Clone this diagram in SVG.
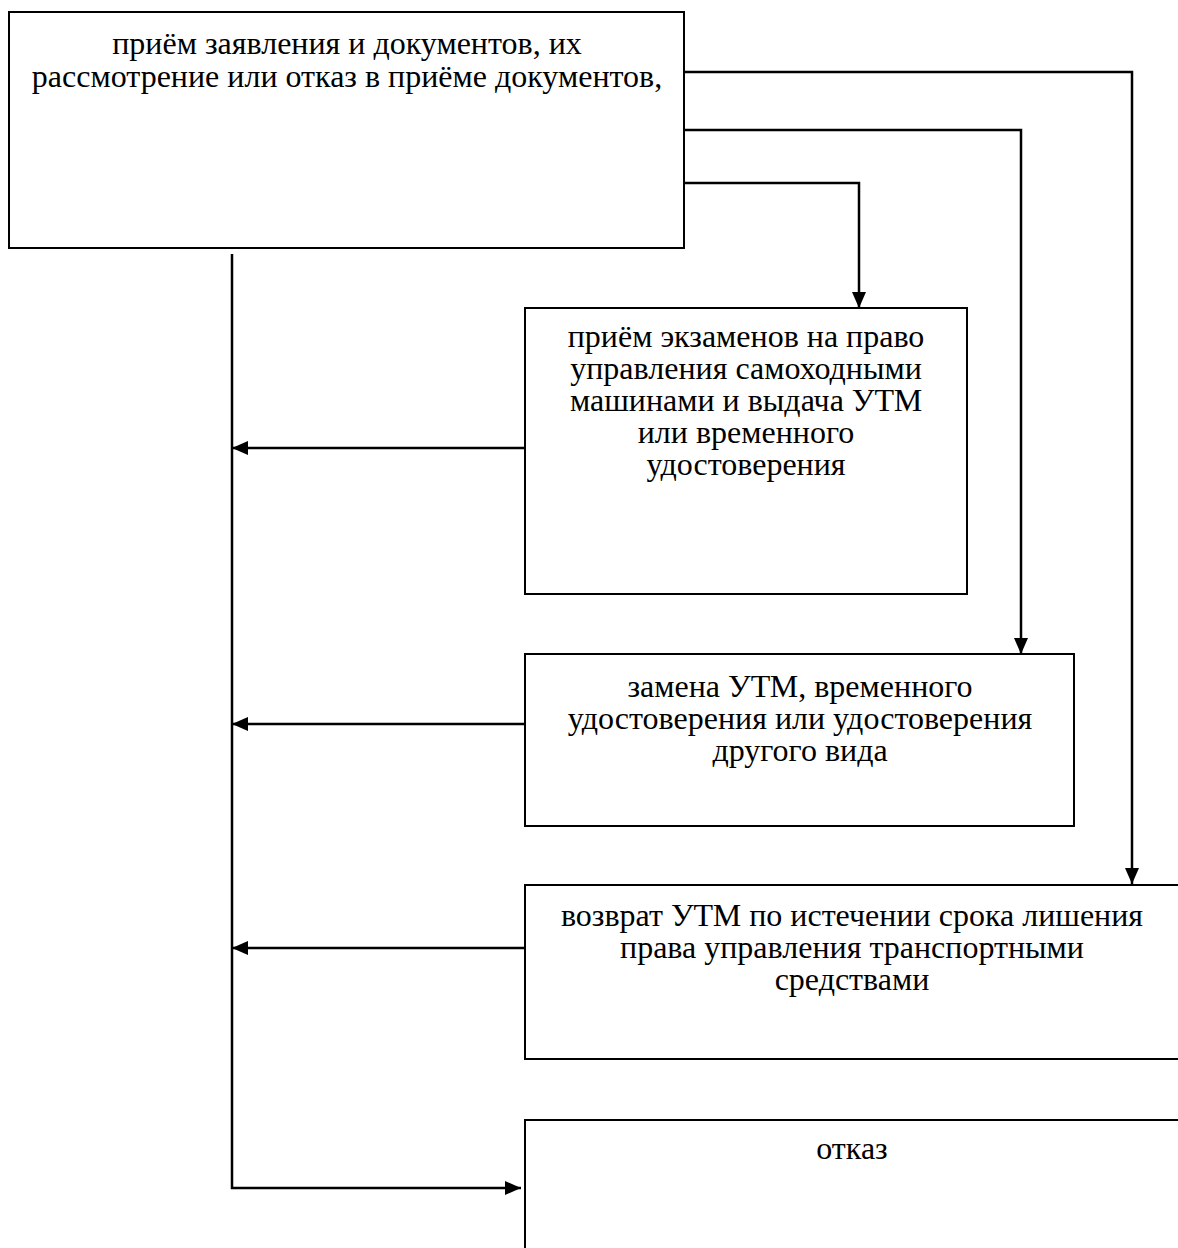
<svg xmlns="http://www.w3.org/2000/svg" width="1178" height="1248" viewBox="0 0 1178 1248">
<style>
.box{fill:#fff;stroke:#000;stroke-width:2}
.ln{fill:none;stroke:#000;stroke-width:2.5}
.t{font-family:'Liberation Serif','DejaVu Serif',serif;font-size:32px;fill:#000;text-anchor:middle}
</style>
<defs>
<marker id="ah" viewBox="0 0 16 14" refX="16" refY="7" markerWidth="16" markerHeight="14" markerUnits="userSpaceOnUse" orient="auto">
<path d="M0,0 L16,7 L0,14 Z" fill="#000"/>
</marker>
</defs>
<rect width="1178" height="1248" fill="#fff"/>
<g id="n1">
<rect class="box" x="9" y="12" width="675" height="236"/>
<text class="t" x="347" y="54">приём заявления и документов, их</text>
<text class="t" x="347" y="87">рассмотрение или отказ в приёме документов,</text>
</g>
<g id="n2">
<rect class="box" x="525" y="308" width="442" height="286"/>
<text class="t" x="746" y="347">приём экзаменов на право</text>
<text class="t" x="746" y="379">управления самоходными</text>
<text class="t" x="746" y="411">машинами и выдача УТМ</text>
<text class="t" x="746" y="443">или временного</text>
<text class="t" x="746" y="475">удостоверения</text>
</g>
<g id="n3">
<rect class="box" x="525" y="654" width="549" height="172"/>
<text class="t" x="800" y="697">замена УТМ, временного</text>
<text class="t" x="800" y="729">удостоверения или удостоверения</text>
<text class="t" x="800" y="761">другого вида</text>
</g>
<g id="n4">
<rect class="box" x="525" y="885" width="670" height="174"/>
<text class="t" x="852" y="926">возврат УТМ по истечении срока лишения</text>
<text class="t" x="852" y="958">права управления транспортными</text>
<text class="t" x="852" y="990">средствами</text>
</g>
<g id="n5">
<rect class="box" x="525" y="1120" width="670" height="150"/>
<text class="t" x="852" y="1159">отказ</text>
</g>
<g id="connectors">
<path class="ln" d="M684,72 H1132 V884" marker-end="url(#ah)"/>
<path class="ln" d="M684,130 H1021 V654" marker-end="url(#ah)"/>
<path class="ln" d="M684,183 H859 V308" marker-end="url(#ah)"/>
<path class="ln" d="M232,254 V1188 H521" marker-end="url(#ah)"/>
<path class="ln" d="M525,448 H232" marker-end="url(#ah)"/>
<path class="ln" d="M525,724 H232" marker-end="url(#ah)"/>
<path class="ln" d="M525,948 H232" marker-end="url(#ah)"/>
</g>
</svg>
